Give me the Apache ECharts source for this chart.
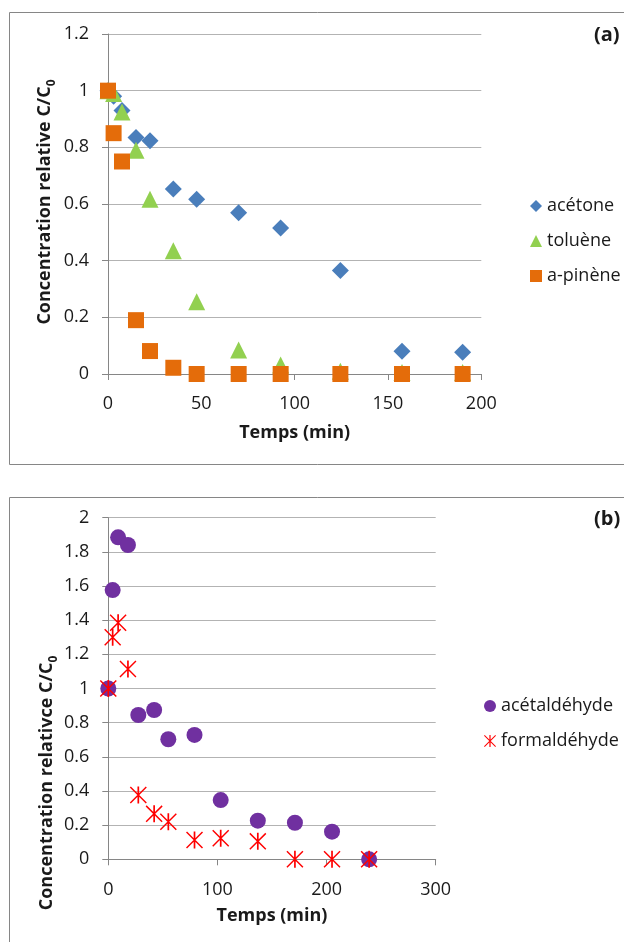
<!DOCTYPE html>
<html><head><meta charset="utf-8">
<script src="https://cdn.jsdelivr.net/npm/echarts@6/dist/echarts.min.js"></script>
<style>html,body{margin:0;padding:0;background:#fff}#c{width:624px;height:942px}</style>
</head><body><div id="c"></div>
<script>
// ---- Panel (a) data ----
const timeA = [0, 3, 7.5, 15, 22.5, 35, 47.5, 70, 92.5, 124.5, 157.5, 190];
const acetone = [1.0, 0.98, 0.93, 0.835, 0.823, 0.653, 0.617, 0.569, 0.515, 0.365, 0.08, 0.077];
const toluene = [1.0, 0.99, 0.925, 0.79, 0.617, 0.435, 0.255, 0.085, 0.032, 0.01, 0.005, 0.005];
const pinene  = [1.0, 0.85, 0.75, 0.19, 0.081, 0.022, 0, 0, 0, 0, 0, 0];
const namesA = ['acétone', 'toluène', 'a-pinène'];
// ---- Panel (b) data ----
const timeB = [0, 4, 9, 18, 27.5, 42, 55, 79, 103, 137, 171, 205, 239];
const acetaldehyde = [1.0, 1.576, 1.885, 1.84, 0.845, 0.874, 0.703, 0.728, 0.347, 0.226, 0.214, 0.162, 0];
const formaldehyde = [1.0, 1.30, 1.385, 1.114, 0.377, 0.266, 0.22, 0.113, 0.123, 0.105, 0, 0, 0];
const namesB = ['acétaldéhyde', 'formaldéhyde'];

const FONT = 'Open Sans';
const TXT = '#1a1a1a';
const pairs = (t, v) => t.map((x, i) => [x, v[i]]);
const star = 'path://M45,0L55,0L55,100L45,100Z M0,6L6,0L100,94L94,100Z M94,0L100,6L6,100L0,94Z';

function xAx(gi, max, interval, gap, margin) {
  return {
    type: 'value', gridIndex: gi, min: 0, max: max, interval: interval,
    name: 'Temps (min)', nameLocation: 'middle', nameGap: gap,
    nameTextStyle: {fontFamily: FONT, fontWeight: 'bold', fontSize: 18, color: TXT},
    axisLine: {show: true, lineStyle: {color: '#868686'}},
    axisTick: {show: true, length: 6, lineStyle: {color: '#868686'}},
    splitLine: {show: false},
    axisLabel: {fontFamily: FONT, fontSize: 18, color: TXT, margin: margin}
  };
}
function yAx(gi, max) {
  return {
    type: 'value', gridIndex: gi, min: 0, max: max, interval: 0.2,
    axisLine: {show: true, lineStyle: {color: '#868686'}},
    axisTick: {show: true, length: 6, lineStyle: {color: '#868686'}},
    splitLine: {show: true, lineStyle: {color: '#B3B3B3'}},
    axisLabel: {fontFamily: FONT, fontSize: 18, color: TXT, margin: 19,
      formatter: v => String(Math.round(v * 10) / 10)}
  };
}
const richTitle = {
  t: {fontFamily: FONT, fontWeight: 'bold', fontSize: 18, lineHeight: 26, fill: TXT, verticalAlign: 'middle'},
  s: {fontFamily: FONT, fontWeight: 'bold', fontSize: 12, lineHeight: 12, fill: TXT, verticalAlign: 'bottom'}
};
function yTitle(x, y, label) {
  return {
    type: 'text', x: x, y: y, rotation: Math.PI / 2,
    style: {text: '{t|' + label + '}{s|0}', rich: richTitle, align: 'center', verticalAlign: 'middle'}
  };
}

const chart = echarts.init(document.getElementById('c'));
chart.setOption({
  animation: false,
  backgroundColor: '#fff',
  grid: [
    {left: 108, top: 34, width: 373.3, height: 340},
    {left: 108.3, top: 517.7, width: 327.4, height: 341.6}
  ],
  xAxis: [xAx(0, 200, 50, 50, 21), xAx(1, 300, 100, 48, 22)],
  yAxis: [yAx(0, 1.2), yAx(1, 2)],
  legend: [
    {data: namesA, orient: 'vertical', left: 525, top: 192, itemWidth: 12, itemHeight: 12, itemGap: 17,
     textStyle: {fontFamily: FONT, fontSize: 18, color: TXT}},
    {data: namesB, orient: 'vertical', left: 479, top: 692, itemWidth: 12, itemHeight: 12, itemGap: 17,
     textStyle: {fontFamily: FONT, fontSize: 18, color: TXT}}
  ],
  graphic: [
    {type: 'rect', shape: {x: 9.5, y: 12.5, width: 700, height: 452}, style: {fill: 'none', stroke: '#868686', lineWidth: 1}, z: -1},
    {type: 'rect', shape: {x: 9.5, y: 497.5, width: 700, height: 600}, style: {fill: 'none', stroke: '#868686', lineWidth: 1}, z: -1},
    yTitle(45, 202, 'Concentration relative C/C'),
    yTitle(47, 783, 'Concentration relativce C/C'),
    {type: 'text', x: 594, y: 35, style: {text: '(a)', font: 'bold 20px "Open Sans"', fill: TXT, verticalAlign: 'middle'}},
    {type: 'text', x: 594, y: 519, style: {text: '(b)', font: 'bold 20px "Open Sans"', fill: TXT, verticalAlign: 'middle'}}
  ],
  series: [
    {name: namesA[0], type: 'scatter', xAxisIndex: 0, yAxisIndex: 0, symbol: 'diamond', symbolSize: 17,
     itemStyle: {color: '#4A7EBB', opacity: 1}, data: pairs(timeA, acetone)},
    {name: namesA[1], type: 'scatter', xAxisIndex: 0, yAxisIndex: 0, symbol: 'triangle', symbolSize: 17,
     itemStyle: {color: '#92D050', opacity: 1}, data: pairs(timeA, toluene)},
    {name: namesA[2], type: 'scatter', xAxisIndex: 0, yAxisIndex: 0, symbol: 'rect', symbolSize: 16,
     itemStyle: {color: '#E46C0A', opacity: 1}, data: pairs(timeA, pinene)},
    {name: namesB[0], type: 'scatter', xAxisIndex: 1, yAxisIndex: 1, symbol: 'circle', symbolSize: 16,
     itemStyle: {color: '#7030A0', opacity: 1}, data: pairs(timeB, acetaldehyde)},
    {name: namesB[1], type: 'scatter', xAxisIndex: 1, yAxisIndex: 1, symbol: star, symbolSize: 17,
     itemStyle: {color: '#FF0000', opacity: 1}, data: pairs(timeB, formaldehyde)}
  ]
});
</script></body></html>
